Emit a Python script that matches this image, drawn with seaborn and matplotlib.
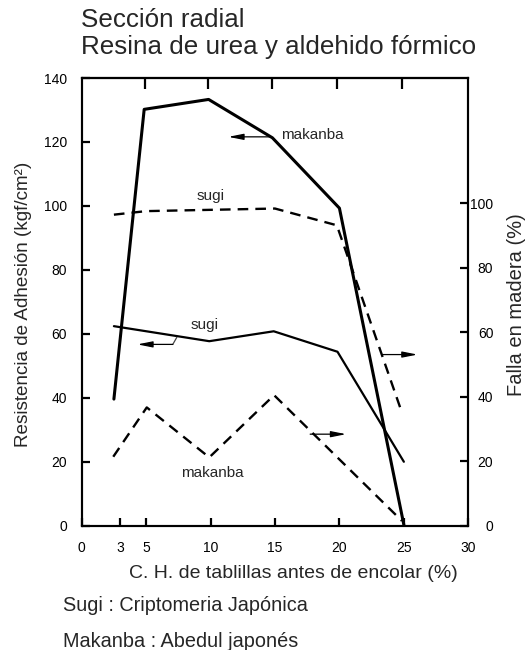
import matplotlib
matplotlib.use("Agg")
import matplotlib.pyplot as plt
import seaborn as sns
import pandas as pd

# Resistencia de adhesión (eje izquierdo, kgf/cm²)
makanba_res_x = [2.5, 4.85, 9.85, 14.8, 20.0, 25.0]
makanba_res_y = [39.6, 130.2, 133.3, 121.3, 99.3, 0.3]
sugi_res_x = [2.5, 9.9, 14.9, 19.85, 25.0]
sugi_res_y = [62.4, 57.7, 60.8, 54.4, 20.0]

# Falla en madera (eje derecho, %)
sugi_falla_x = [2.5, 5.0, 10.0, 15.0, 19.8, 24.85]
sugi_falla_y = [96.5, 97.6, 98.0, 98.4, 93.2, 35.1]
makanba_falla_x = [2.45, 5.05, 9.9, 14.93, 24.85]
makanba_falla_y = [21.4, 36.7, 21.2, 40.5, 1.5]

xticks = [0, 3, 5, 10, 15, 20, 25, 30]
left_ticks = [0, 20, 40, 60, 80, 100, 120, 140]
right_ticks = [0, 20, 40, 60, 80, 100]
top_ticks = [4.88, 9.8, 14.8, 19.85, 24.85]

sns.set_theme(style="white")
plt.rcParams["font.family"] = ["Liberation Sans", "DejaVu Sans"]

fig = plt.figure(figsize=(5.27, 6.5), dpi=100)
ax = fig.add_axes([0.155, 0.1912, 0.7336, 0.6888])
ax2 = ax.twinx()

res_mk = pd.DataFrame({"x": makanba_res_x, "y": makanba_res_y})
res_sg = pd.DataFrame({"x": sugi_res_x, "y": sugi_res_y})
fal_sg = pd.DataFrame({"x": sugi_falla_x, "y": sugi_falla_y})
fal_mk = pd.DataFrame({"x": makanba_falla_x, "y": makanba_falla_y})

sns.lineplot(data=res_mk, x="x", y="y", ax=ax, sort=False, color="black", lw=2.2)
sns.lineplot(data=res_sg, x="x", y="y", ax=ax, sort=False, color="black", lw=1.6)
sns.lineplot(data=fal_sg, x="x", y="y", ax=ax2, sort=False, color="black", lw=1.7,
             dashes=False, linestyle=(0, (4.5, 3)))
sns.lineplot(data=fal_mk, x="x", y="y", ax=ax2, sort=False, color="black", lw=1.7,
             dashes=False, linestyle=(0, (4.5, 3)))

ax.set_xlim(0, 30)
ax.set_ylim(0, 140)
ax2.set_ylim(0, 138.9)

ax.set_xticks(xticks)
ax.set_xticklabels([str(t) for t in xticks])
ax.set_yticks(left_ticks)
ax.set_yticklabels([str(t) for t in left_ticks])
ax2.set_yticks(right_ticks)
ax2.set_yticklabels([str(t) for t in right_ticks])

for spine in list(ax.spines.values()) + list(ax2.spines.values()):
    spine.set_color("black")
    spine.set_linewidth(1.5)

ax.tick_params(axis="x", direction="in", length=5.5, width=1.6, pad=11,
               labelsize=10, colors="black", bottom=True)
ax.tick_params(axis="y", direction="in", length=5.5, width=1.6, pad=10.5,
               labelsize=10, colors="black", left=True)
ax2.tick_params(axis="y", direction="in", length=5.5, width=1.6, pad=18,
                labelsize=10, colors="black", right=True)
for lab in ax2.get_yticklabels():
    lab.set_horizontalalignment("right")

top = ax.secondary_xaxis("top")
top.set_xticks(top_ticks)
top.set_xticklabels([""] * len(top_ticks))
top.tick_params(direction="in", length=8, width=1.6, colors="black")
top.spines["top"].set_linewidth(1.5)

ax.set_xlabel("")
ax.set_ylabel("")
ax2.set_ylabel("")

# Annotations
ax.text(15.5, 122.2, "makanba", fontsize=11, ha="left", va="center")
ax.annotate("", xy=(11.38, 121.6), xytext=(14.62, 121.6),
            arrowprops=dict(arrowstyle="-|>,head_length=0.9,head_width=0.18",
                            mutation_scale=10, color="black", lw=0.9,
                            shrinkA=0, shrinkB=0))
ax.text(10.0, 103.1, "sugi", fontsize=11, ha="center", va="center")
ax.text(9.5, 62.8, "sugi", fontsize=11, ha="center", va="center")
ax.plot([7.38, 7.07], [58.9, 56.7], color="#444444", lw=0.9)
ax.annotate("", xy=(4.32, 56.7), xytext=(7.07, 56.7),
            arrowprops=dict(arrowstyle="-|>,head_length=0.9,head_width=0.18",
                            mutation_scale=10, color="black", lw=0.9,
                            shrinkA=0, shrinkB=0))
ax.text(10.14, 16.4, "makanba", fontsize=11, ha="center", va="center")
ax2.annotate("", xy=(26.06, 53.1), xytext=(23.29, 53.1),
             arrowprops=dict(arrowstyle="-|>,head_length=0.9,head_width=0.18",
                             mutation_scale=10, color="black", lw=0.9,
                             shrinkA=0, shrinkB=0))
ax2.annotate("", xy=(20.52, 28.4), xytext=(17.73, 28.4),
             arrowprops=dict(arrowstyle="-|>,head_length=0.9,head_width=0.18",
                             mutation_scale=10, color="black", lw=0.9,
                             shrinkA=0, shrinkB=0))

# Titles and axis labels
fig.text(80.7 / 527, 1 - 20 / 650, "Sección radial", fontsize=18.7,
         ha="left", va="center")
fig.text(80.7 / 527, 1 - 47 / 650, "Resina de urea y aldehido fórmico",
         fontsize=18.7, ha="left", va="center")
fig.text(293.3 / 527, 1 - 574 / 650, "C. H. de tablillas antes de encolar (%)",
         fontsize=14, ha="center", va="center")
fig.text(23.3 / 527, 1 - 304.2 / 650, "Resistencia de Adhesión (kgf/cm²)",
         fontsize=13.6, ha="center", va="center", rotation=90)
fig.text(516.7 / 527, 1 - 305 / 650, "Falla en madera (%)",
         fontsize=14.5, ha="center", va="center", rotation=90)
fig.text(63.2 / 527, 1 - 605.9 / 650, "Sugi : Criptomeria Japónica",
         fontsize=14.3, ha="left", va="center")
fig.text(63.2 / 527, 1 - 641.2 / 650, "Makanba : Abedul japonés",
         fontsize=14.3, ha="left", va="center")

fig.savefig("out.png", dpi=100)
